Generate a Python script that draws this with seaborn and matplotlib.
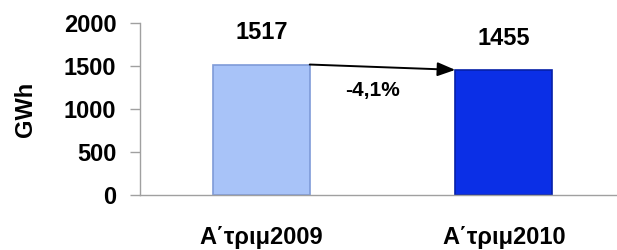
import matplotlib

matplotlib.use("Agg")
import matplotlib.pyplot as plt
import pandas as pd
import seaborn as sns

# Quarterly energy, Q1 2009 vs Q1 2010
periods = ["Α΄τριμ2009", "Α΄τριμ2010"]
gwh = [1517, 1455]
change_label = "-4,1%"
bar_colors = ["#A8C3F8", "#0B2FE6"]
edge_colors = ["#7F9BD8", "#0620A8"]

sns.set_theme(style="white")
plt.rcParams["font.family"] = ["Liberation Sans", "DejaVu Sans"]
plt.rcParams["font.weight"] = "bold"
plt.rcParams["text.color"] = "black"
plt.rcParams["axes.labelcolor"] = "black"
plt.rcParams["xtick.color"] = "black"
plt.rcParams["ytick.color"] = "black"

df = pd.DataFrame({"period": periods, "gwh": gwh})

fig = plt.figure(figsize=(6.17, 2.5), dpi=100)
ax = fig.add_axes([140 / 617, 55 / 250, 477 / 617, 172 / 250])

sns.barplot(data=df, x="period", y="gwh", hue="period", saturation=1,
            palette=bar_colors, width=0.4, legend=False, ax=ax)
for patch, ec in zip(ax.patches, edge_colors):
    patch.set_edgecolor(ec)
    patch.set_linewidth(1.2)

ax.set_xlim(-0.5, 1.467)
ax.set_ylim(0, 2000)
ax.set_yticks([0, 500, 1000, 1500, 2000])

# value labels above bars
for i, v in enumerate(gwh):
    ax.text(i, v + 370, str(v), ha="center", va="center",
            fontsize=17, fontweight="bold", color="black")

# change arrow between bar tops
ax.annotate("", xy=(0.8, gwh[1]), xytext=(0.2, gwh[0]),
            arrowprops=dict(arrowstyle="-|>,head_length=0.9,head_width=0.35",
                            color="black", lw=1.4, shrinkA=0, shrinkB=0))
ax.text(0.46, (gwh[0] + gwh[1]) / 2 - 270, change_label, ha="center",
        va="center", fontsize=15, fontweight="bold", color="black")

ax.set_xlabel("")
ax.set_ylabel("GWh", fontsize=17, fontweight="bold", labelpad=19)
ax.tick_params(axis="y", labelsize=17, length=7, width=1, color="#A0A0A0",
               left=True, pad=10, labelcolor="black")
ax.tick_params(axis="x", labelsize=17, length=0, pad=22, labelcolor="black")
for lbl in ax.get_xticklabels() + ax.get_yticklabels():
    lbl.set_fontweight("bold")

for side in ["top", "right"]:
    ax.spines[side].set_visible(False)
for side in ["left", "bottom"]:
    ax.spines[side].set_color("#A0A0A0")
    ax.spines[side].set_linewidth(1)

fig.savefig("out.png", dpi=100, facecolor="white")
